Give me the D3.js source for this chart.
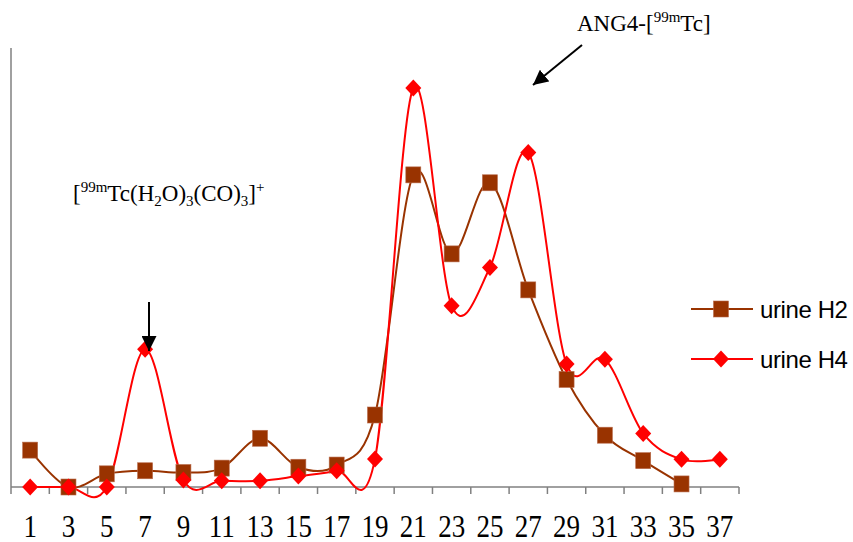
<!DOCTYPE html>
<html>
<head>
<meta charset="utf-8">
<script src="https://cdn.jsdelivr.net/npm/d3@7"></script>
<style>
  html, body { margin: 0; padding: 0; background: #fff; }
  svg { display: block; }
</style>
</head>
<body>
<svg id="chart" width="853" height="542"></svg>
<script>
// ---- data ----
const fractions = ["1","3","5","7","9","11","13","15","17","19","21","23","25","27","29","31","33","35","37"];
const urineH2 = [8.4, 0, 3.0, 3.7, 3.3, 4.3, 11.1, 4.5, 5.0, 16.4, 71.1, 53.1, 69.3, 44.9, 24.5, 11.8, 6.0, 0.7, null];
const urineH4 = [0, 0, 0, 31.4, 1.6, 1.4, 1.4, 2.5, 3.7, 6.4, 90.9, 41.3, 50.0, 76.2, 28.0, 29.1, 12.2, 6.3, 6.3];
const seriesNames = ["urine H2", "urine H4"];
const yDomain = [0, 100];

(function () {
// ---- layout ----
const svg = d3.select("#chart");
const pLeft = 11, pRight = 739, pTop = 48, pBottom = 487;

const x = d3.scaleBand().domain(fractions).range([pLeft, pRight]).padding(0);
const y = d3.scaleLinear().domain(yDomain).range([pBottom, pTop]);

const axisColor = "#808080";

// y axis line
svg.append("line")
  .attr("x1", pLeft).attr("x2", pLeft)
  .attr("y1", pTop).attr("y2", pBottom)
  .attr("stroke", axisColor).attr("stroke-width", 1.5);

// x axis with ticks at band boundaries
const xAxisG = svg.append("g").attr("transform", `translate(0,${pBottom})`);
xAxisG.append("line")
  .attr("x1", pLeft).attr("x2", pRight)
  .attr("stroke", axisColor).attr("stroke-width", 1.5);
const boundaries = fractions.map(f => x(f)).concat([x(fractions[fractions.length-1]) + x.bandwidth()]);
xAxisG.selectAll("line.tick").data(boundaries).enter().append("line")
  .attr("class", "tick")
  .attr("x1", d => d).attr("x2", d => d)
  .attr("y1", 0).attr("y2", 7)
  .attr("stroke", axisColor).attr("stroke-width", 1.5);
xAxisG.selectAll("text").data(fractions).enter().append("text")
  .attr("transform", d => `translate(${x(d) + x.bandwidth() / 2},50) scale(1,1.15)`)
  .attr("text-anchor", "middle")
  .attr("font-family", "'Liberation Serif', 'Times New Roman', serif")
  .attr("font-size", 27)
  .attr("fill", "#000")
  .text(d => d);

const cx = i => x(fractions[i]) + x.bandwidth() / 2;

const colors = ["#993300", "#FF0000"];
const seriesData = [urineH2, urineH4];

seriesData.forEach((vals, si) => {
  const pts = vals.map((v, i) => ({ x: cx(i), v })).filter(p => p.v !== null);
  const line = d3.line().x(p => p.x).y(p => y(p.v)).curve(d3.curveCardinal.tension(0));
  svg.append("path").datum(pts)
    .attr("d", line)
    .attr("fill", "none")
    .attr("stroke", colors[si])
    .attr("stroke-width", 2);
});

// markers
function drawMarker(g, type, px, py, color) {
  if (type === 0) {
    g.append("rect")
      .attr("x", px - 7.5).attr("y", py - 8)
      .attr("width", 15).attr("height", 16)
      .attr("fill", color).attr("stroke", "#b86a4a").attr("stroke-width", 0.6);
  } else {
    g.append("path")
      .attr("d", `M${px},${py-8.5} L${px+8},${py} L${px},${py+8.5} L${px-8},${py} Z`)
      .attr("fill", color);
  }
}
seriesData.forEach((vals, si) => {
  const g = svg.append("g");
  vals.forEach((v, i) => {
    if (v === null) return;
    drawMarker(g, si, cx(i), y(v), colors[si]);
  });
});

// legend
const legendRows = [309, 359];
seriesNames.forEach((name, si) => {
  const g = svg.append("g");
  const ly = legendRows[si];
  g.append("line").attr("x1", 691).attr("x2", 753).attr("y1", ly).attr("y2", ly)
    .attr("stroke", colors[si]).attr("stroke-width", 2);
  drawMarker(g, si, 721, ly, colors[si]);
  g.append("text")
    .attr("x", 760).attr("y", ly + 9)
    .attr("font-family", "'Liberation Sans', Arial, sans-serif")
    .attr("font-size", 24)
    .attr("letter-spacing", -0.4)
    .attr("fill", "#000")
    .text(name);
});

// annotations
const serif = "'Liberation Serif', 'Times New Roman', serif";
function richText(xp, yp, parts) {
  const t = svg.append("text").attr("x", xp).attr("y", yp)
    .attr("font-family", serif).attr("font-size", 23).attr("fill", "#000");
  let shift = 0;
  parts.forEach(([s, kind]) => {
    const target = kind === "sup" ? -9 : kind === "sub" ? 5 : 0;
    const ts = t.append("tspan").attr("dy", target - shift).text(s);
    if (kind) ts.attr("font-size", 15);
    shift = target;
  });
  return t;
}
richText(73, 201, [["[", null], ["99m", "sup"], ["Tc(H", null], ["2", "sub"], ["O)", null], ["3", "sub"], ["(CO)", null], ["3", "sub"], ["]", null], ["+", "sup"]]);
richText(577, 31, [["ANG4-[", null], ["99m", "sup"], ["Tc]", null]]);

// arrows
svg.append("defs").append("marker")
  .attr("id", "ah").attr("viewBox", "0 0 10 10")
  .attr("refX", 10).attr("refY", 5)
  .attr("markerWidth", 7.5).attr("markerHeight", 7.5)
  .attr("markerUnits", "strokeWidth")
  .attr("orient", "auto")
  .append("path").attr("d", "M0,0 L10,5 L0,10 Z").attr("fill", "#000");

svg.append("line").attr("x1", 582).attr("y1", 45).attr("x2", 533).attr("y2", 85)
  .attr("stroke", "#000").attr("stroke-width", 2).attr("marker-end", "url(#ah)");
svg.append("line").attr("x1", 149).attr("y1", 302).attr("x2", 149).attr("y2", 351)
  .attr("stroke", "#000").attr("stroke-width", 2).attr("marker-end", "url(#ah)");
})();
</script>
</body>
</html>
